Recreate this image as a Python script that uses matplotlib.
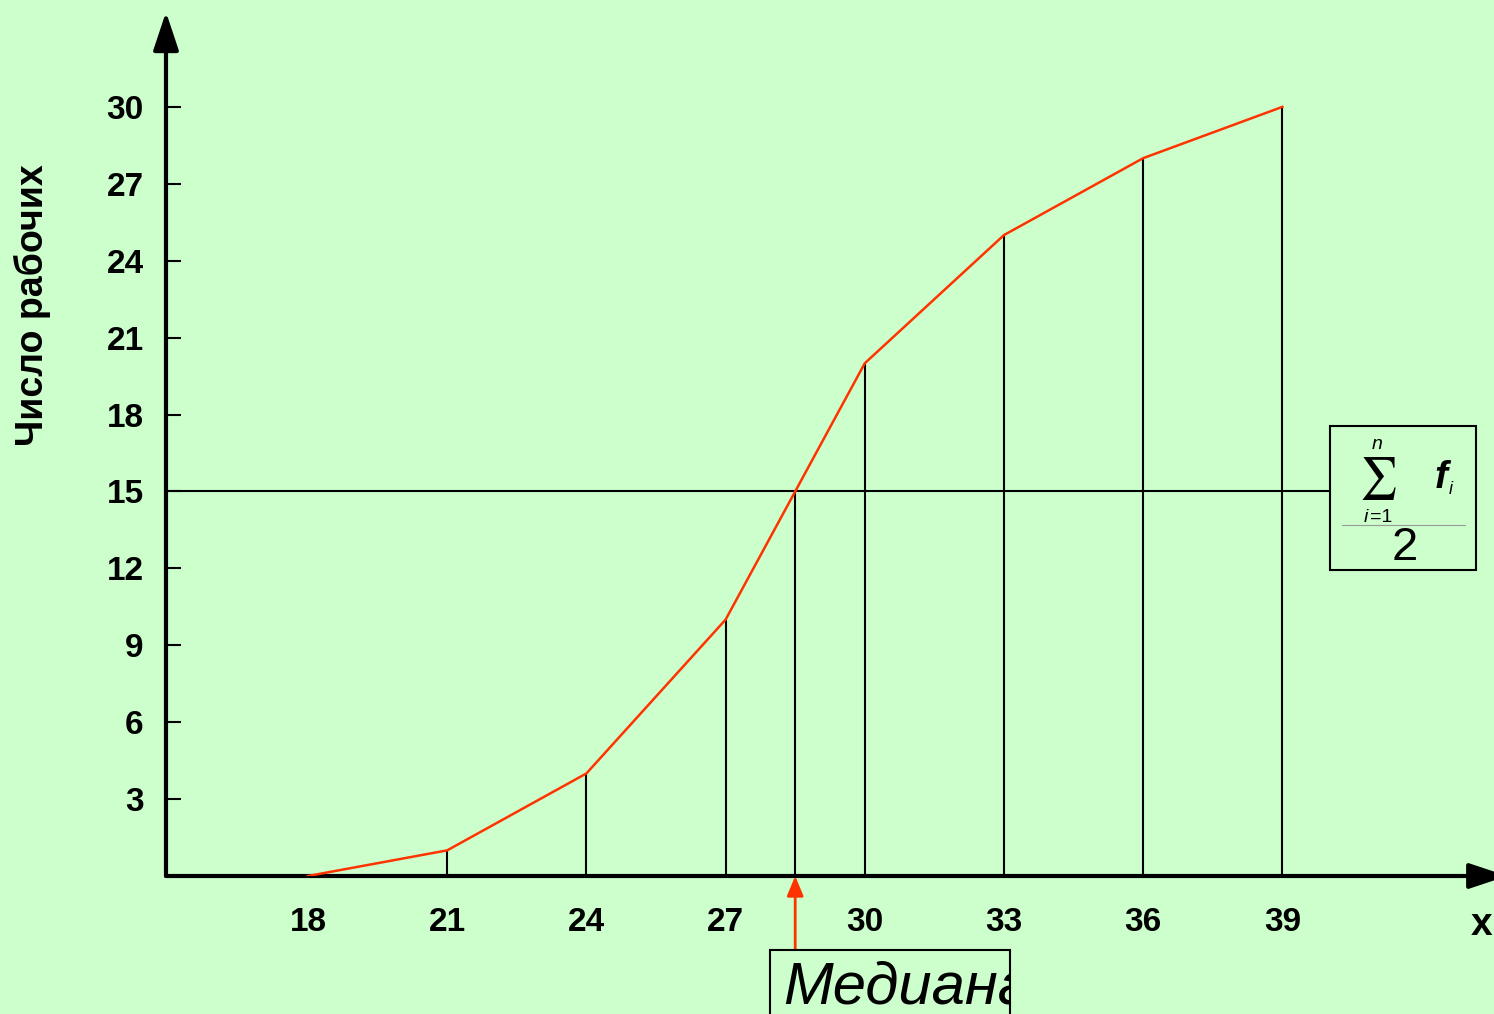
import matplotlib
matplotlib.use('Agg')
import matplotlib.pyplot as plt
from matplotlib.patches import Rectangle
from matplotlib.lines import Line2D

# cumulative distribution of workers (кумулята)
x_vals = [18, 21, 24, 27, 30, 33, 36, 39]
cum_freq = [0, 1, 4, 10, 20, 25, 28, 30]
y_ticks = [3, 6, 9, 12, 15, 18, 21, 24, 27, 30]
x_ticks = [18, 21, 24, 27, 30, 33, 36, 39]

bg = '#CCFFCC'
red = '#FF3300'

plt.rcParams['font.family'] = ['Liberation Sans', 'DejaVu Sans']

fig = plt.figure(figsize=(14.94, 10.14), dpi=100, facecolor=bg)
ax = fig.add_axes([166 / 1494, 138 / 1014, 1328 / 1494, 864 / 1014])
ax.set_facecolor(bg)
ax.set_xlim(14.94, 43.56)
ax.set_ylim(0, 33.7)

for s in ax.spines.values():
    s.set_visible(False)

# axes with arrows
arrow = dict(arrowstyle='-|>,head_length=0.9,head_width=0.3', lw=3, color='black',
             mutation_scale=26, shrinkA=0, shrinkB=0)
ax.annotate('', xy=(0, 1.0), xytext=(0, 0), xycoords='axes fraction', arrowprops=arrow)
ax.annotate('', xy=(1.01, 0), xytext=(0, 0), xycoords='axes fraction', arrowprops=arrow,
            annotation_clip=False)

# half of total
half = cum_freq[-1] / 2
# median by linear interpolation
for i in range(1, len(cum_freq)):
    if cum_freq[i] >= half:
        median = x_vals[i - 1] + (x_vals[i] - x_vals[i - 1]) * (half - cum_freq[i - 1]) / (cum_freq[i] - cum_freq[i - 1])
        break

# formula box (figure coords)
W, H = 1494, 1014
bx0, by0, bw, bh = 1330 / W, 444 / H, 146 / W, 144 / H
box = Rectangle((bx0, by0), bw, bh, transform=fig.transFigure, fill=False, lw=1.5, ec='black')
fig.patches.append(box)
box_left_data = ax.transData.inverted().transform(fig.transFigure.transform((bx0, 0)))[0]

ax.hlines(half, ax.get_xlim()[0], box_left_data, color='black', lw=1.5, clip_on=False)
ax.vlines(x_vals[1:], 0, cum_freq[1:], color='black', lw=1.5)
ax.vlines(median, 0, half, color='black', lw=1.5)
ax.plot(x_vals, cum_freq, color=red, lw=1.8, zorder=3)

# sum f_i / 2 written piece by piece
def px(x, y):
    return x / W, 1 - y / H

fig.text(*px(1378, 478), r'$\sum$', fontsize=30, ha='center', va='center', math_fontfamily='stixsans')
fig.text(*px(1377, 449), 'n', fontsize=14, style='italic', ha='center', va='baseline')
fig.text(*px(1368, 522), 'i', fontsize=14, style='italic', ha='right', va='baseline')
fig.text(*px(1370, 522), '=1', fontsize=14, ha='left', va='baseline')
fig.text(*px(1441, 488), 'f', fontsize=28, style='italic', fontweight='bold', ha='center', va='baseline')
fig.text(*px(1451, 494), 'i', fontsize=13, style='italic', ha='center', va='baseline')
fig.lines.append(Line2D([1342 / W, 1465 / W], [1 - 525 / H] * 2, transform=fig.transFigure,
                        color='#999999', lw=0.8))
fig.text(*px(1405, 560), '2', fontsize=34, ha='center', va='baseline')

# median arrow and label
ax.annotate('', xy=(median, 0), xytext=(0, -53), textcoords='offset points',
            xycoords='data',
            arrowprops=dict(arrowstyle='-|>,head_length=0.6,head_width=0.25', color=red,
                            lw=2, mutation_scale=20, shrinkA=0, shrinkB=0))
mbox = Rectangle((770 / W, -0.05), 240 / W, 0.05 + 64 / H, transform=fig.transFigure,
                 fill=False, lw=1.5, ec='black')
fig.patches.append(mbox)
t = fig.text(783 / W, 11 / H, 'Медиана', fontsize=43, style='italic', ha='left', va='baseline')
t.set_clip_path(mbox)

ax.set_yticks(y_ticks)
ax.set_xticks(x_ticks)
ax.tick_params(axis='y', direction='in', length=11, width=1.5, pad=16, labelsize=24)
ax.tick_params(axis='x', length=0, pad=22, labelsize=24)
for lab in ax.get_xticklabels() + ax.get_yticklabels():
    lab.set_fontweight('bold')

fig.text(32 / W, 1 - 305 / H, 'Число рабочих', rotation=90, fontsize=27, fontweight='bold',
         ha='center', va='center')
fig.text(1482 / W, 1 - 925 / H, 'x', fontsize=28, fontweight='bold', ha='center', va='center')

plt.savefig('out.png', dpi=100, facecolor=bg)
